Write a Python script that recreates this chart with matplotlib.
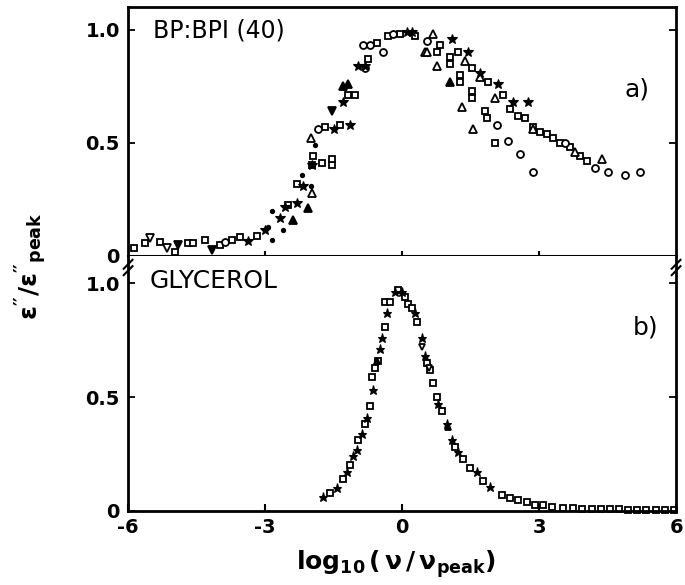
import matplotlib
matplotlib.use("Agg")
import matplotlib.pyplot as plt

plt.rcParams['font.family'] = ['DejaVu Sans']
plt.rcParams['mathtext.default'] = 'regular'

# ---- panel a) BP:BPI (40) ----
a_sq_x = [-5.87, -5.62, -5.3, -4.97, -4.68, -4.57, -4.31, -3.98, -3.72, -3.54, -3.17,
          -2.5, -2.3, -1.97, -1.75, -1.53, -1.53, -1.95, -1.68, -1.36, -1.18, -1.03,
          -0.74, -0.55, -0.31, -0.04, 0.28, 0.77, 0.83, 1.23, 1.53, 1.88, 1.05, 1.05,
          1.27, 1.27, 1.53, 1.53, 2.21, 2.36, 2.54, 2.69, 1.82, 1.86, 2.03, 2.87, 3.02,
          3.17, 3.30, 3.46, 3.68, 3.90, 4.05]
a_sq_y = [0.035, 0.058, 0.062, 0.018, 0.058, 0.058, 0.07, 0.05, 0.07, 0.085, 0.088,
          0.226, 0.32, 0.40, 0.41, 0.40, 0.43, 0.44, 0.57, 0.58, 0.71, 0.71,
          0.87, 0.94, 0.97, 0.98, 0.97, 0.90, 0.93, 0.90, 0.83, 0.77, 0.85, 0.88,
          0.77, 0.80, 0.70, 0.73, 0.71, 0.65, 0.62, 0.61, 0.64, 0.61, 0.50, 0.57, 0.55,
          0.54, 0.52, 0.50, 0.48, 0.44, 0.42]
a_ci_x = [-3.87, -1.84, -0.85, -0.81, -0.70, -0.42, -0.2, 0.55, 2.08, 2.32, 2.58,
          2.87, 3.57, 4.22, 4.51, 4.88, 5.21]
a_ci_y = [0.06, 0.56, 0.93, 0.83, 0.93, 0.90, 0.98, 0.95, 0.58, 0.51, 0.45,
          0.37, 0.50, 0.39, 0.37, 0.36, 0.37]
a_tri_x = [-2.0, -1.97, 0.5, 0.55, 0.68, 0.77, 1.38, 1.71, 2.03, 1.31, 1.55, 2.87, 3.79, 4.38]
a_tri_y = [0.52, 0.28, 0.90, 0.90, 0.98, 0.84, 0.86, 0.79, 0.70, 0.66, 0.56, 0.56, 0.46, 0.43]
a_ftri_x = [-2.38, -2.06, -1.29, -1.18, 1.05]
a_ftri_y = [0.16, 0.21, 0.75, 0.76, 0.77]
a_star_x = [-3.37, -3.0, -2.67, -2.56, -2.3, -2.17, -1.97, -1.5, -1.29, -1.14, -0.96,
            -0.81, 0.1, 0.22, 1.09, 1.44, 1.71, 2.1, 2.43, 2.76]
a_star_y = [0.066, 0.115, 0.17, 0.217, 0.234, 0.31, 0.40, 0.56, 0.68, 0.58, 0.84,
            0.84, 0.99, 0.99, 0.96, 0.90, 0.81, 0.76, 0.68, 0.68]
a_fdn_x = [-4.9, -4.16, -1.53]
a_fdn_y = [0.05, 0.027, 0.64]
a_odn_x = [-5.51, -5.14]
a_odn_y = [0.08, 0.035]
a_dot_x = [-2.85, -2.85, -2.6, -2.19, -2.0, -1.9, -2.93]
a_dot_y = [0.07, 0.2, 0.115, 0.36, 0.31, 0.49, 0.128]

# ---- panel b) glycerol ----
b_sq_x = [-1.58, -1.29, -1.14, -0.96, -0.81, -0.70, -0.66, -0.59, -0.53, -0.37, -0.37,
          -0.26, -0.09, 0.07, 0.13, 0.22, 0.33, 0.55, 0.61, 0.68, 0.77, 0.88, 1.16,
          1.33, 1.49, 1.77, 2.19, 2.36, 2.54, 2.74, 2.91, 3.09, 3.28, 3.52, 3.74, 3.95,
          4.15, 4.35, 4.55, 4.75, 4.95, 5.15, 5.35, 5.55, 5.75, 5.95]
b_sq_y = [0.08, 0.14, 0.20, 0.31, 0.38, 0.46, 0.59, 0.63, 0.66, 0.81, 0.92,
          0.92, 0.97, 0.94, 0.91, 0.89, 0.83, 0.65, 0.62, 0.56, 0.50, 0.44, 0.28,
          0.23, 0.19, 0.13, 0.07, 0.057, 0.048, 0.04, 0.026, 0.026, 0.018, 0.013, 0.012, 0.01,
          0.008, 0.008, 0.007, 0.007, 0.006, 0.006, 0.006, 0.006, 0.006, 0.006]
b_star_x = [-1.73, -1.42, -1.2, -1.07, -0.98, -0.88, -0.77, -0.63, -0.48, -0.44, -0.33,
            -0.15, 0.0, 0.28, 0.44, 0.50, 0.79, 0.98, 1.09, 1.23, 1.64, 1.93]
b_star_y = [0.06, 0.10, 0.17, 0.24, 0.27, 0.34, 0.41, 0.53, 0.71, 0.76, 0.87,
            0.96, 0.96, 0.87, 0.76, 0.68, 0.47, 0.38, 0.31, 0.26, 0.17, 0.105]
b_dn_x = [0.44, 0.6]
b_dn_y = [0.72, 0.63]
b_ftri_x = [-0.55, 1.0]
b_ftri_y = [0.66, 0.37]

fig = plt.figure(figsize=(6.85, 5.85), dpi=100)
ax1 = fig.add_axes([0.187, 0.5624, 0.800, 0.4256])
ax2 = fig.add_axes([0.187, 0.1265, 0.800, 0.4359])

def mk(ax, x, y, m, filled, ms, mew=1.3):
    ax.plot(x, y, linestyle='none', marker=m, markersize=ms,
            markerfacecolor='black' if filled else 'white',
            markeredgecolor='black', markeredgewidth=mew, clip_on=False)

mk(ax1, a_sq_x, a_sq_y, 's', False, 5)
mk(ax1, a_ci_x, a_ci_y, 'o', False, 5)
mk(ax1, a_tri_x, a_tri_y, '^', False, 5.5)
mk(ax1, a_ftri_x, a_ftri_y, '^', True, 5.5)
mk(ax1, a_star_x, a_star_y, '*', True, 7, 0.8)
mk(ax1, a_fdn_x, a_fdn_y, 'v', True, 5.5)
mk(ax1, a_odn_x, a_odn_y, 'v', False, 5.5)
mk(ax1, a_dot_x, a_dot_y, 'o', True, 2.5)

mk(ax2, b_sq_x, b_sq_y, 's', False, 4.5)
mk(ax2, b_star_x, b_star_y, '*', True, 6.5, 0.8)
mk(ax2, b_dn_x, b_dn_y, 'v', False, 4.5)
mk(ax2, b_ftri_x, b_ftri_y, '^', True, 4.5)

for ax, top in ((ax1, 1.10), (ax2, 1.12)):
    ax.set_xlim(-6, 6)
    ax.set_ylim(0, top)
    for s in ax.spines.values():
        s.set_linewidth(2)
    ax.set_yticks([0, 0.5, 1.0])
    ax.set_yticklabels(['0', '0.5', '1.0'])
    ax.tick_params(axis='y', which='both', direction='in', length=5, width=1.3,
                   left=True, right=True, labelsize=14, pad=6)
    for lab in ax.get_yticklabels():
        lab.set_fontweight('bold')

ax1.spines['bottom'].set_linewidth(1.5)
ax2.spines['top'].set_visible(False)
ax1.set_xticks([-3, 0, 3])
ax1.tick_params(axis='x', direction='inout', length=7, width=1.5, labelbottom=False)
ax2.set_xticks([-6, -3, 0, 3, 6])
ax2.set_xticklabels(['-6', '-3', '0', '3', '6'])
ax2.tick_params(axis='x', direction='in', length=5, width=1.5, labelsize=14, pad=5)
for lab in ax2.get_xticklabels():
    lab.set_fontweight('bold')

# axis break marks
for xa in (0.0, 1.0):
    ax2.plot([xa - 0.008, xa + 0.008], [0.95, 0.985], transform=ax2.transAxes,
             color='black', lw=1.5, clip_on=False)
    ax2.plot([xa - 0.008, xa + 0.008], [0.925, 0.96], transform=ax2.transAxes,
             color='black', lw=1.5, clip_on=False)

ax1.text(0.045, 0.955, 'BP:BPI (40)', transform=ax1.transAxes, fontsize=17,
         ha='left', va='top')
ax1.text(0.905, 0.67, 'a)', transform=ax1.transAxes, fontsize=18, ha='left', va='center')
ax2.text(0.04, 0.95, 'GLYCEROL', transform=ax2.transAxes, fontsize=18,
         ha='left', va='top')
ax2.text(0.92, 0.72, 'b)', transform=ax2.transAxes, fontsize=18, ha='left', va='center')

fig.text(0.045, 0.545, r"$\varepsilon''/\varepsilon''_{peak}$", rotation=90,
         fontsize=18, ha='center', va='center', fontweight='bold')
fig.text(0.578, 0.035, r"$log_{10}\,(\,\nu\,/\,\nu_{peak})$", fontsize=18,
         ha='center', va='center', fontweight='bold')

fig.savefig('out.png', dpi=100)
